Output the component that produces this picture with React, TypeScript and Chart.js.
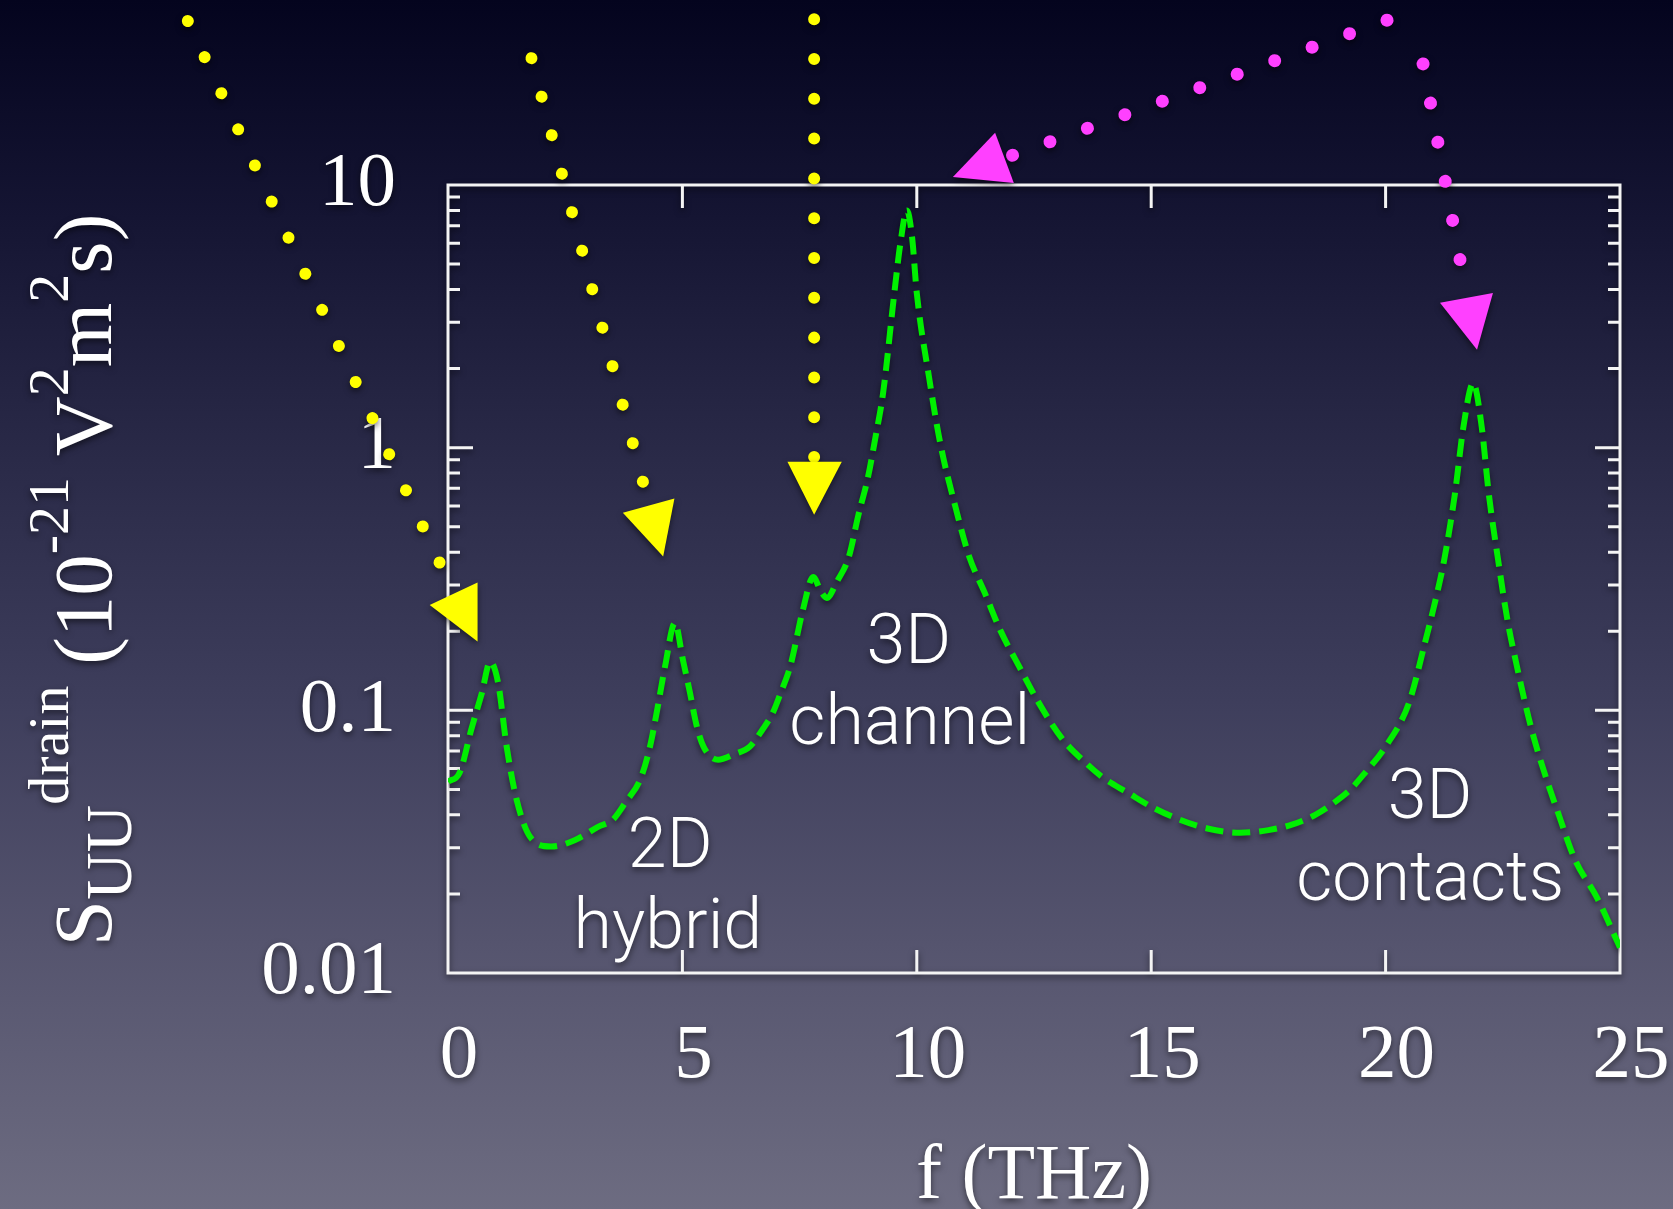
import React, { useEffect, useRef } from 'react';
import { Chart, registerables } from 'chart.js';

Chart.register(...registerables);

const CANVAS_W = 1673;
const CANVAS_H = 1209;

// ---- axes ----
const xTickValues = [0, 5, 10, 15, 20, 25];
const xTickLabels = ['0', '5', '10', '15', '20', '25'];
const yTickValues = [0.01, 0.1, 1, 10];
const yTickLabels = ['0.01', '0.1', '1', '10'];
const yDecades = [0.01, 0.1, 1];
const yMinorSteps = [1, 2, 3, 4, 5, 6, 7, 8, 9];

// ---- series: drain voltage noise spectral density ----
const freqTHz = [
  0, 0.25, 0.5, 0.72, 0.9, 1.07, 1.25, 1.46, 1.75, 2.2,
  2.7, 3.2, 3.52, 3.8, 4.1, 4.31, 4.46, 4.63, 4.84, 5.01,
  5.16, 5.3, 5.45, 5.76, 6.1, 6.44, 6.7, 6.93, 7.1, 7.3,
  7.57, 7.79, 7.95, 8.08, 8.3, 8.55, 8.75, 8.96, 9.12, 9.28,
  9.52, 9.65, 9.79, 9.9, 10.0, 10.26, 10.5, 10.84, 11.12, 11.45,
  11.78, 12.2, 12.6, 13.1, 13.6, 14.0, 14.5, 15.0, 15.6, 16.2,
  16.9, 17.5, 18.0, 18.5, 18.9, 19.25, 19.56, 20.0, 20.5, 20.84,
  21.1, 21.25, 21.48, 21.66, 21.87, 22.05, 22.2, 22.4, 22.6, 22.77,
  23.1, 23.4, 23.68, 24.04, 24.5, 25.0,
];
const sDrain = [
  0.0535, 0.058, 0.085, 0.116, 0.153, 0.127, 0.073, 0.046, 0.033, 0.0303,
  0.032, 0.036, 0.0384, 0.045, 0.0545, 0.073, 0.1, 0.147, 0.215, 0.156,
  0.117, 0.088, 0.0728, 0.0649, 0.068, 0.0728, 0.084, 0.098, 0.117, 0.147,
  0.241, 0.322, 0.285, 0.268, 0.31, 0.384, 0.55, 0.774, 1.1, 1.61,
  3.87, 6.0, 8.0, 6.3, 3.87, 1.86, 1.04, 0.58, 0.384, 0.28,
  0.202, 0.145, 0.107, 0.078, 0.0632, 0.055, 0.0486, 0.043, 0.0384, 0.0355,
  0.0342, 0.035, 0.0367, 0.04, 0.0445, 0.05, 0.0578, 0.0728, 0.107, 0.181,
  0.28, 0.374, 0.67, 1.2, 1.76, 1.2, 0.67, 0.374, 0.22, 0.156,
  0.0865, 0.057, 0.0407, 0.027, 0.0195, 0.0125,
];

// ---- annotation arrows (data coordinates) ----
const yellowArrowA = [{ x: -5.55, y: 42.1 }, { x: -0.15, y: 0.356 }];
const yellowArrowB = [{ x: 1.78, y: 30.4 }, { x: 4.17, y: 0.728 }];
const yellowArrowC = [{ x: 7.81, y: 42.8 }, { x: 7.81, y: 0.91 }];
const magentaArrow1 = [{ x: 20.03, y: 42.4 }, { x: 12.0, y: 12.9 }];
const magentaArrow2 = [{ x: 20.8, y: 28.9 }, { x: 21.74, y: 3.72 }];

const yellowHeadA = [{ x: -0.39, y: 0.252 }, { x: 0.63, y: 0.307 }, { x: 0.63, y: 0.183 }];
const yellowHeadB = [{ x: 3.73, y: 0.565 }, { x: 4.83, y: 0.64 }, { x: 4.59, y: 0.385 }];
const yellowHeadC = [{ x: 7.24, y: 0.883 }, { x: 8.4, y: 0.883 }, { x: 7.81, y: 0.556 }];
const magentaHead1 = [{ x: 10.77, y: 10.73 }, { x: 11.67, y: 15.8 }, { x: 12.07, y: 10.18 }];
const magentaHead2 = [{ x: 21.16, y: 3.56 }, { x: 22.29, y: 3.88 }, { x: 21.95, y: 2.36 }];

// ---- region labels (data coordinates of text baseline centre) ----
const regionLabels = [
  { text: '3D', x: 9.83, y: 0.152 },
  { text: 'channel', x: 9.85, y: 0.0746 },
  { text: '2D', x: 4.74, y: 0.0254 },
  { text: 'hybrid', x: 4.69, y: 0.0125 },
  { text: '3D', x: 20.95, y: 0.039 },
  { text: 'contacts', x: 20.95, y: 0.019 },
];

const YELLOW = '#ffff00';
const MAGENTA = '#ff40ff';
const GREEN = '#00f000';
const WHITE = '#f4f4f4';
const SERIF = '"Liberation Serif", "Times New Roman", serif';

const yTickMarks = yDecades
  .flatMap((d) => yMinorSteps.map((k) => +(k * d).toPrecision(3)))
  .concat([10]);

const isMajorLog = (v: number) => {
  const l = Math.log10(v);
  return Math.abs(l - Math.round(l)) < 1e-6;
};

const setShadow = (ctx: CanvasRenderingContext2D) => {
  ctx.shadowColor = 'rgba(0,0,0,0.55)';
  ctx.shadowBlur = 6;
  ctx.shadowOffsetX = 0;
  ctx.shadowOffsetY = 3;
};

const shadowPlugin = {
  id: 'shadowAll',
  beforeDraw(chart: any) {
    setShadow(chart.ctx);
  },
  afterDraw(chart: any) {
    const ctx = chart.ctx;
    ctx.shadowColor = 'rgba(0,0,0,0)';
    ctx.shadowBlur = 0;
    ctx.shadowOffsetY = 0;
  },
};

const boxPlugin = {
  id: 'frameBox',
  beforeDatasetsDraw(chart: any) {
    const { ctx, chartArea: a, scales } = chart;
    const xs = scales.x;
    const ys = scales.y;
    ctx.save();
    setShadow(ctx);
    ctx.strokeStyle = WHITE;
    ctx.lineWidth = 3;
    ctx.lineCap = 'butt';
    ctx.beginPath();
    ctx.rect(a.left, a.top, a.right - a.left, a.bottom - a.top);
    for (const t of xs.ticks) {
      const p = xs.getPixelForValue(t.value);
      if (p <= a.left + 1 || p >= a.right - 1) continue;
      ctx.moveTo(p, a.bottom);
      ctx.lineTo(p, a.bottom - 23);
      ctx.moveTo(p, a.top);
      ctx.lineTo(p, a.top + 23);
    }
    for (const t of ys.ticks) {
      const p = ys.getPixelForValue(t.value);
      if (p <= a.top + 1 || p >= a.bottom - 1) continue;
      const len = isMajorLog(t.value) ? 25 : 12;
      ctx.moveTo(a.left, p);
      ctx.lineTo(a.left + len, p);
      ctx.moveTo(a.right, p);
      ctx.lineTo(a.right - len, p);
    }
    ctx.stroke();
    ctx.restore();
  },
};

const heads = [
  { pts: yellowHeadA, color: YELLOW },
  { pts: yellowHeadB, color: YELLOW },
  { pts: yellowHeadC, color: YELLOW },
  { pts: magentaHead1, color: MAGENTA },
  { pts: magentaHead2, color: MAGENTA },
];

const annotationPlugin = {
  id: 'annotations',
  afterDatasetsDraw(chart: any) {
    const { ctx, scales } = chart;
    const xs = scales.x;
    const ys = scales.y;
    ctx.save();
    setShadow(ctx);
    for (const h of heads) {
      ctx.fillStyle = h.color;
      ctx.beginPath();
      h.pts.forEach((p, i) => {
        const X = xs.getPixelForValue(p.x);
        const Y = ys.getPixelForValue(p.y);
        if (i === 0) ctx.moveTo(X, Y);
        else ctx.lineTo(X, Y);
      });
      ctx.closePath();
      ctx.fill();
    }
    ctx.fillStyle = '#ffffff';
    ctx.font = '300 70px Roboto, "Liberation Sans", sans-serif';
    ctx.textAlign = 'center';
    ctx.textBaseline = 'alphabetic';
    for (const l of regionLabels) {
      ctx.fillText(l.text, xs.getPixelForValue(l.x), ys.getPixelForValue(l.y));
    }
    ctx.restore();
  },
};

// y axis title: S_UU^drain (10^-21 V^2 m^2 s)
const yTitleParts = [
  { t: 'S', k: 'main' },
  { t: 'UU', k: 'sub' },
  { t: 'drain', k: 'sup' },
  { t: ' (10', k: 'main' },
  { t: '-21', k: 'sup' },
  { t: ' V', k: 'main' },
  { t: '2', k: 'sup' },
  { t: 'm', k: 'main' },
  { t: '2', k: 'sup' },
  { t: 's)', k: 'main' },
];
const yTitleStyle: Record<string, { size: number; shift: number }> = {
  main: { size: 83, shift: 0 },
  sub: { size: 66, shift: 20 },
  sup: { size: 58, shift: -43 },
};

const yTitlePlugin = {
  id: 'yTitle',
  afterDraw(chart: any) {
    const { ctx, chartArea: a } = chart;
    ctx.save();
    setShadow(ctx);
    ctx.fillStyle = '#ffffff';
    ctx.textBaseline = 'alphabetic';
    ctx.textAlign = 'left';
    let total = 0;
    const widths = yTitleParts.map((p) => {
      ctx.font = `${yTitleStyle[p.k].size}px ${SERIF}`;
      const w = ctx.measureText(p.t).width;
      total += w;
      return w;
    });
    const cy = (a.top + a.bottom) / 2 + 1;
    ctx.translate(111, cy);
    ctx.rotate(-Math.PI / 2);
    let x = -total / 2;
    yTitleParts.forEach((p, i) => {
      const st = yTitleStyle[p.k];
      ctx.font = `${st.size}px ${SERIF}`;
      ctx.fillText(p.t, x, st.shift);
      x += widths[i];
    });
    ctx.restore();
  },
};

const dotted = (data: { x: number; y: number }[], color: string, width: number) => ({
  data,
  borderColor: color,
  backgroundColor: color,
  borderWidth: width,
  borderDash: [0.01, 39.8],
  borderCapStyle: 'round' as const,
  pointRadius: 0,
  tension: 0,
  fill: false,
  clip: false as const,
});

export default function App() {
  const canvasRef = useRef<HTMLCanvasElement | null>(null);

  useEffect(() => {
    const canvas = canvasRef.current;
    if (!canvas) return;
    const chart = new Chart(canvas, {
      type: 'line',
      data: {
        datasets: [
          {
            data: freqTHz.map((f, i) => ({ x: f, y: sDrain[i] })),
            borderColor: GREEN,
            borderWidth: 6,
            borderDash: [18, 9],
            pointRadius: 0,
            cubicInterpolationMode: 'monotone',
            fill: false,
          },
          dotted(yellowArrowA, YELLOW, 12),
          dotted(yellowArrowB, YELLOW, 12),
          dotted(yellowArrowC, YELLOW, 12),
          dotted(magentaArrow1, MAGENTA, 13),
          dotted(magentaArrow2, MAGENTA, 13),
        ] as any,
      },
      options: {
        responsive: false,
        animation: false,
        devicePixelRatio: 1,
        layout: { padding: { top: 185, right: 53, bottom: 0, left: 0 } },
        plugins: {
          legend: { display: false },
          tooltip: { enabled: false },
        },
        scales: {
          x: {
            type: 'linear',
            position: 'bottom',
            min: 0,
            max: 25,
            afterFit: (s: any) => {
              s.height = 236;
              s.paddingLeft = 0;
              s.paddingRight = 0;
            },
            grid: { display: false, drawTicks: false },
            border: { display: false },
            ticks: {
              stepSize: 5,
              autoSkip: false,
              maxRotation: 0,
              padding: 38,
              labelOffset: 11,
              color: '#ffffff',
              font: { family: SERIF, size: 77 },
              callback: (v: any) => {
                const i = xTickValues.findIndex((t) => Math.abs(t - Number(v)) < 1e-9);
                return i >= 0 ? xTickLabels[i] : '';
              },
            },
            title: {
              display: true,
              text: 'f (THz)',
              color: '#ffffff',
              font: { family: SERIF, size: 78, lineHeight: 0.82 },
              padding: { top: 0, bottom: 0 },
            },
          },
          y: {
            type: 'logarithmic',
            position: 'left',
            min: 0.01,
            max: 10,
            afterFit: (s: any) => {
              s.width = 448;
              s.paddingTop = 0;
              s.paddingBottom = 0;
            },
            afterBuildTicks: (s: any) => {
              s.ticks = yTickMarks.map((v) => ({ value: v, major: isMajorLog(v) }));
            },
            grid: { display: false, drawTicks: false },
            border: { display: false },
            ticks: {
              autoSkip: false,
              padding: 52,
              color: '#ffffff',
              font: { family: SERIF, size: 77 },
              callback: (v: any) => {
                const i = yTickValues.findIndex((t) => Math.abs(t - Number(v)) / t < 1e-6);
                return i >= 0 ? yTickLabels[i] : '';
              },
            },
          },
        },
      } as any,
      plugins: [shadowPlugin, boxPlugin, annotationPlugin, yTitlePlugin],
    });
    return () => chart.destroy();
  }, []);

  return (
    <div
      style={{
        position: 'absolute',
        left: 0,
        top: 0,
        width: CANVAS_W,
        height: CANVAS_H,
        overflow: 'hidden',
        background:
          'linear-gradient(to bottom, #04041e 0%, #151533 18%, #2a2a48 38%, #3e3e5c 58%, #55546e 78%, #6d6c81 100%)',
      }}
    >
      <canvas ref={canvasRef} width={CANVAS_W} height={CANVAS_H} style={{ display: 'block' }} />
    </div>
  );
}
